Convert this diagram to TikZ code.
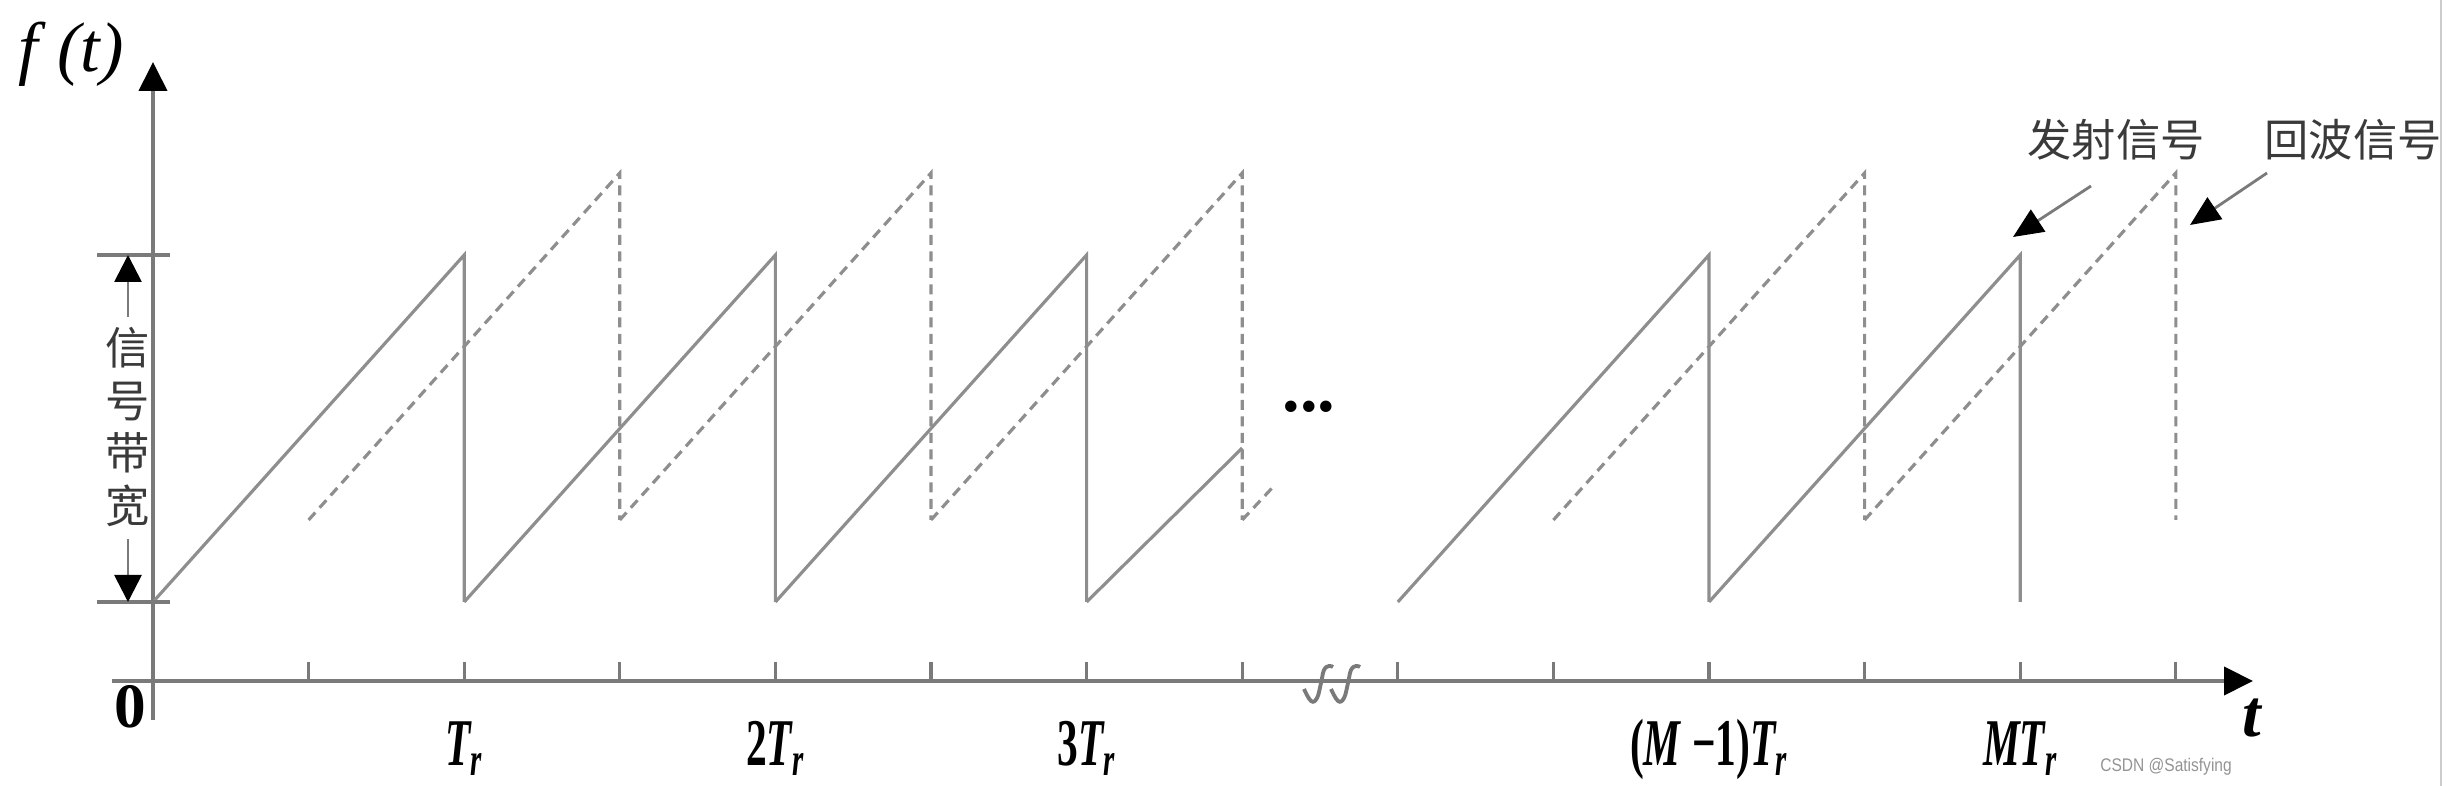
\documentclass[tikz,border=0pt]{standalone}
\usepackage{fontspec}
\setmainfont{Liberation Serif}
\newfontfamily\cjk{Noto Sans CJK SC}
\newfontfamily\wmfont{Liberation Sans}
\usetikzlibrary{arrows.meta}
\definecolor{linegray}{HTML}{8E8E8E}
\definecolor{axisgray}{HTML}{7A7A7A}
\definecolor{textgray}{HTML}{3A3A3A}

\begin{document}
\begin{tikzpicture}[
    every node/.style={inner sep=0pt, outer sep=0pt},
    axisline/.style={draw=axisgray, line width=1.1pt},
    txline/.style={draw=linegray, line width=0.9pt},
    echoline/.style={draw=linegray, line width=0.9pt, dash pattern=on 0.1cm off 0.065cm},
    tickmark/.style={draw=axisgray, line width=0.9pt},
    ticklabel/.style={font=\fontsize{19}{22}\selectfont\bfseries\itshape, anchor=base},
    cnlabel/.style={font=\cjk\fontsize{12.6}{15}\selectfont, text=textgray},
    callout/.style={draw=axisgray, line width=0.8pt, -{Triangle[length=0.3cm, width=0.26cm, color=black]}},
    bwarrow/.style={draw=axisgray, line width=0.8pt, -{Triangle[length=0.27cm, width=0.27cm, color=black]}},
]
\useasboundingbox (-1.53,-1.05) rectangle (22.93,6.81);
\def\hstep{1.556}
\def\tlow{0.79}
\def\thigh{4.26}
\def\elow{1.61}
\def\ehigh{5.08}

% axes
\coordinate (xbeg) at (-0.41,0);
\coordinate (xend) at (21.0,0);
\coordinate (ybeg) at (0,-0.39);
\coordinate (yend) at (0,6.19);
\draw[axisline, -{Triangle[length=0.29cm, width=0.28cm, color=black]}] (xbeg) -- (xend);
\draw[axisline, -{Triangle[length=0.29cm, width=0.28cm, color=black]}] (ybeg) -- (yend);
\foreach \k in {1,...,13} {
    \draw[tickmark] (\k*\hstep,0) -- (\k*\hstep,0.19);
}
% axis break
\foreach \dx in {0,0.27} {
    \draw[axisline, xshift=\dx cm] plot[smooth, tension=0.7] coordinates {(11.51,-0.08) (11.58,-0.2) (11.64,-0.17) (11.68,-0.02) (11.71,0.11) (11.76,0.15) (11.80,0.14)};
}

% transmitted and echo sawtooth
\foreach \p in {0,2,4,8,10} {
    \draw[txline] (\p*\hstep,\tlow) -- ({(\p+2)*\hstep},\thigh) -- ({(\p+2)*\hstep},\tlow);
}
\foreach \p in {1,3,5,9,11} {
    \draw[echoline] (\p*\hstep,\elow) -- ({(\p+2)*\hstep},\ehigh) -- ({(\p+2)*\hstep},\elow);
}
\draw[txline] (6*\hstep,\tlow) -- (7*\hstep,2.33);
\draw[echoline] (7*\hstep,\elow) -- (11.2,1.94);
\node[font=\fontsize{20}{24}\selectfont\bfseries] (dots) at (11.56,2.74) {...};

% bandwidth marker
\draw[axisline] (-0.56,\thigh) -- (0.17,\thigh);
\draw[axisline] (-0.56,\tlow) -- (0.17,\tlow);
\node[cnlabel, align=center] (bw) at (-0.25,2.54) {信\\号\\带\\宽};
\coordinate (bwtop) at (-0.25,\thigh);
\coordinate (bwbot) at (-0.25,\tlow);
\draw[bwarrow] ([yshift=0.1cm]bw.north) -- (bwtop);
\draw[bwarrow] ([yshift=-0.12cm]bw.south) -- (bwbot);

% labels
\node[font=\fontsize{20}{24}\selectfont\itshape] (fy) at (-0.82,6.27) {f\hspace{0.2cm}(t)};
\node[font=\fontsize{18}{22}\selectfont\bfseries] (zero) at (-0.23,-0.26) {0};
\node[font=\fontsize{19}{22}\selectfont\bfseries\itshape] (tx) at (20.99,-0.37) {t};
\foreach \k/\lbl in {2/{T\textsubscript{r}}, 4/{\textup{2}T\textsubscript{r}}, 6/{\textup{3}T\textsubscript{r}}, 10/{\textup{(}M \textup{−1)}T\textsubscript{r}}, 12/{MT\textsubscript{r}}} {
    \node[ticklabel] (tl\k) at (\k*\hstep,-0.85) {\scalebox{0.62}[1]{\lbl}};
}
\node[cnlabel] (txlbl) at (19.63,5.41) {发射信号};
\node[cnlabel] (rxlbl) at (22.0,5.41) {回波信号};
\coordinate (txtail) at (19.38,4.95);
\coordinate (txtip) at (18.60,4.44);
\coordinate (rxtail) at (21.14,5.08);
\coordinate (rxtip) at (20.37,4.56);
\draw[callout] (txtail) -- (txtip);
\draw[callout] (rxtail) -- (rxtip);

\node[font=\wmfont\fontsize{5.2}{6}\selectfont, text=gray!85] (wm) at (20.13,-0.86) {\scalebox{0.85}[1]{CSDN @Satisfying}};
\draw[gray!40, line width=0.5pt] (22.88,-1.05) -- (22.88,6.81);
\end{tikzpicture}
\end{document}
